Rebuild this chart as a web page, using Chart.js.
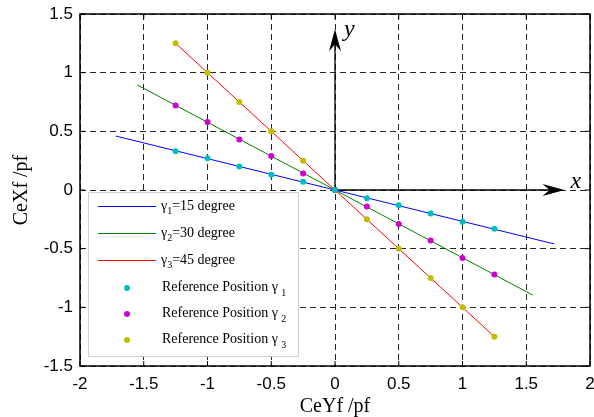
<!DOCTYPE html>
<html>
<head>
<meta charset="utf-8">
<script src="https://cdn.jsdelivr.net/npm/chart.js@4/dist/chart.umd.min.js"></script>
<style>
  html, body { margin: 0; padding: 0; background: #fff; }
</style>
</head>
<body>
<canvas id="chart" width="594" height="417"></canvas>
<script>
// Data
const xTicks = [-2, -1.5, -1, -0.5, 0, 0.5, 1, 1.5, 2];
const yTicks = [-1.5, -1, -0.5, 0, 0.5, 1, 1.5];

// fitted lines (end points)
const line1X = [-1.72, 1.72];
const line1Y = [0.46, -0.46];
const line2X = [-1.55, 1.55];
const line2Y = [0.895, -0.895];
const line3X = [-1.25, 1.25];
const line3Y = [1.25, -1.25];

// reference positions
const refX = [-1.25, -1, -0.75, -0.5, -0.25, 0, 0.25, 0.5, 0.75, 1, 1.25];
const ref1Y = [0.33, 0.27, 0.2, 0.13, 0.07, 0, -0.07, -0.13, -0.2, -0.27, -0.33];
const ref2Y = [0.72, 0.58, 0.43, 0.29, 0.14, 0, -0.14, -0.29, -0.43, -0.58, -0.72];
const ref3Y = [1.25, 1, 0.75, 0.5, 0.25, 0, -0.25, -0.5, -0.75, -1, -1.25];

const toPoints = (xs, ys) => xs.map((x, i) => ({ x: x, y: ys[i] }));

const lineColors = ['#0000ff', '#008000', '#ff0000'];
const dotColors = ['rgb(0,191,191)', 'rgb(210,0,210)', 'rgb(191,191,0)'];

const lineSet = (label, xs, ys, color) => ({
  type: 'line', label: label, data: toPoints(xs, ys),
  borderColor: color, backgroundColor: color, borderWidth: 1,
  pointRadius: 0, fill: false, showLine: true, order: 2
});
const dotSet = (label, ys, color) => ({
  type: 'scatter', label: label, data: toPoints(refX, ys),
  backgroundColor: color, borderColor: color, pointRadius: 3,
  pointBorderWidth: 0, order: 1
});

// arrows for x/y axes, frame, and legend box
const decoPlugin = {
  id: 'deco',
  beforeDatasetsDraw(chart) {
    const ctx = chart.ctx;
    const xs = chart.scales.x, ys = chart.scales.y;
    const ox = xs.getPixelForValue(0), oy = ys.getPixelForValue(0);
    const tx = xs.getPixelForValue(1.8), ty = ys.getPixelForValue(1.37);
    ctx.save();
    ctx.strokeStyle = '#000';
    ctx.fillStyle = '#000';
    ctx.lineWidth = 1.3;
    ctx.beginPath();
    ctx.moveTo(ox, oy); ctx.lineTo(tx - 10, oy);
    ctx.moveTo(ox, oy); ctx.lineTo(ox, ty + 10);
    ctx.stroke();
    // x arrow head
    ctx.beginPath();
    ctx.moveTo(tx, oy); ctx.lineTo(tx - 22, oy - 6); ctx.lineTo(tx - 15, oy); ctx.lineTo(tx - 22, oy + 6);
    ctx.closePath(); ctx.fill();
    // y arrow head
    ctx.beginPath();
    ctx.moveTo(ox, ty); ctx.lineTo(ox - 6, ty + 22); ctx.lineTo(ox, ty + 15); ctx.lineTo(ox + 6, ty + 22);
    ctx.closePath(); ctx.fill();
    ctx.font = 'italic 24px "Liberation Serif"';
    ctx.textBaseline = 'middle';
    ctx.textAlign = 'left';
    ctx.fillText('x', tx + 6, oy - 8);
    ctx.fillText('y', ox + 9, ty + 0);
    ctx.restore();
  },
  afterDatasetsDraw(chart) {
    const ctx = chart.ctx;
    const a = chart.chartArea;
    const xs = chart.scales.x, ys = chart.scales.y;
    ctx.save();
    // inner tick marks
    ctx.strokeStyle = '#000';
    ctx.lineWidth = 1;
    ctx.beginPath();
    xTicks.forEach(v => {
      const p = xs.getPixelForValue(v);
      ctx.moveTo(p, a.bottom); ctx.lineTo(p, a.bottom - 5);
      ctx.moveTo(p, a.top); ctx.lineTo(p, a.top + 5);
    });
    yTicks.forEach(v => {
      const p = ys.getPixelForValue(v);
      ctx.moveTo(a.left, p); ctx.lineTo(a.left + 5, p);
      ctx.moveTo(a.right, p); ctx.lineTo(a.right - 5, p);
    });
    ctx.stroke();
    // frame
    ctx.lineWidth = 1.5;
    ctx.strokeRect(a.left, a.top, a.right - a.left, a.bottom - a.top);

    // legend box
    const bx = 88, by = 192, bw = 210, bh = 164;
    ctx.fillStyle = '#fff';
    ctx.fillRect(bx, by, bw, bh);
    ctx.strokeStyle = '#d0d0d0';
    ctx.lineWidth = 1;
    ctx.strokeRect(bx + 0.5, by + 0.5, bw, bh);

    const rows = [206, 233, 260, 287, 313, 339];
    const degs = ['15', '30', '45'];
    ctx.textBaseline = 'middle';
    ctx.textAlign = 'left';
    for (let i = 0; i < 3; i++) {
      const y = rows[i];
      ctx.strokeStyle = lineColors[i];
      ctx.lineWidth = 1;
      ctx.beginPath();
      ctx.moveTo(98, y + 0.5); ctx.lineTo(156, y + 0.5);
      ctx.stroke();
      ctx.fillStyle = '#000';
      ctx.font = '14px "Liberation Serif"';
      let x = 161;
      ctx.fillText('γ', x, y);
      x += ctx.measureText('γ').width;
      ctx.font = '10px "Liberation Serif"';
      ctx.fillText(String(i + 1), x, y + 5);
      x += ctx.measureText(String(i + 1)).width;
      ctx.font = '14px "Liberation Serif"';
      ctx.fillText('=' + degs[i] + ' degree', x, y);
    }
    for (let i = 0; i < 3; i++) {
      const y = rows[i + 3];
      ctx.fillStyle = dotColors[i];
      ctx.beginPath();
      ctx.arc(127, y + 1, 3, 0, Math.PI * 2);
      ctx.fill();
      ctx.fillStyle = '#000';
      ctx.font = '14px "Liberation Serif"';
      const t = 'Reference Position γ ';
      ctx.fillText(t, 162, y);
      const w = ctx.measureText(t).width;
      ctx.font = '10px "Liberation Serif"';
      ctx.fillText(String(i + 1), 162 + w, y + 6);
    }
    ctx.restore();
  }
};

const tickFont = { family: '"Liberation Sans", Arial, sans-serif', size: 17 };
const titleFont = { family: '"Liberation Serif", "Times New Roman", serif', size: 20, lineHeight: 1 };
const gridStyle = { color: '#262626', lineWidth: 1, drawTicks: false };

const chart = new Chart(document.getElementById('chart'), {
  data: {
    datasets: [
      lineSet('γ1=15 degree', line1X, line1Y, lineColors[0]),
      lineSet('γ2=30 degree', line2X, line2Y, lineColors[1]),
      lineSet('γ3=45 degree', line3X, line3Y, lineColors[2]),
      dotSet('Reference Position γ 1', ref1Y, dotColors[0]),
      dotSet('Reference Position γ 2', ref2Y, dotColors[1]),
      dotSet('Reference Position γ 3', ref3Y, dotColors[2])
    ]
  },
  options: {
    responsive: false,
    animation: false,
    layout: { padding: { top: 14, right: 4, left: 0, bottom: 0 } },
    plugins: {
      legend: { display: false },
      tooltip: { enabled: false }
    },
    scales: {
      x: {
        type: 'linear', min: -2, max: 2,
        afterBuildTicks: s => { s.ticks = xTicks.map(v => ({ value: v })); },
        afterFit: s => { s.height = 51; s.paddingLeft = 0; s.paddingRight = 0; },
        ticks: { font: tickFont, color: '#000', padding: 8, maxRotation: 0, callback: v => String(v) },
        grid: gridStyle,
        border: { display: false, dash: [6, 4] },
        title: { display: true, text: 'CeYf /pf', font: titleFont, color: '#000', padding: { top: 0, bottom: 0 } }
      },
      y: {
        type: 'linear', min: -1.5, max: 1.5,
        afterBuildTicks: s => { s.ticks = yTicks.map(v => ({ value: v })); },
        afterFit: s => { s.width = 80; s.paddingTop = 0; s.paddingBottom = 0; },
        ticks: { font: tickFont, color: '#000', padding: 7, callback: v => String(v) },
        grid: gridStyle,
        border: { display: false, dash: [6, 4] },
        title: { display: true, text: 'CeXf /pf', font: titleFont, color: '#000', padding: { top: 12, bottom: 0 } }
      }
    }
  },
  plugins: [decoPlugin]
});
</script>
</body>
</html>
